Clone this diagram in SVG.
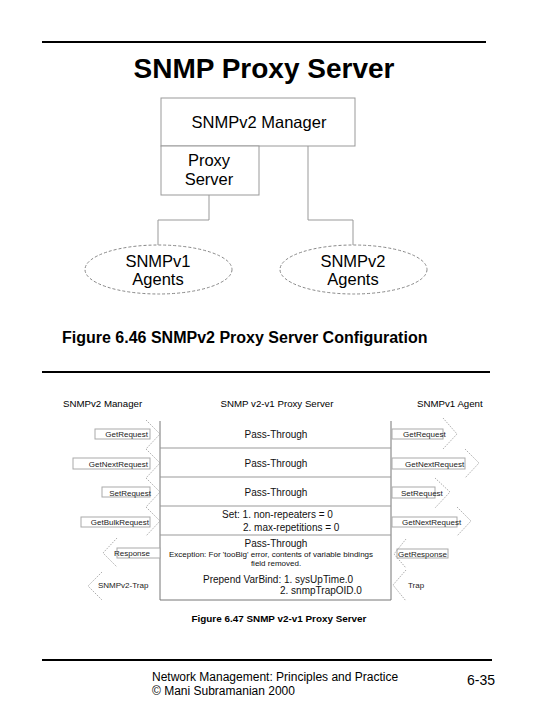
<svg xmlns="http://www.w3.org/2000/svg" width="540" height="720" viewBox="0 0 540 720">
<style>
text{font-family:"Liberation Sans",Arial,sans-serif;fill:#000}
.title{font-size:28px;font-weight:bold}
.cap{font-size:16px;font-weight:bold}
.cap2{font-size:9.9px;font-weight:bold}
.n1{font-size:16.5px}
.hdr{font-size:9.7px;fill:#000}
.row{font-size:10px;fill:#111}
.small{font-size:8px;fill:#111}
.lbl{font-size:8px;fill:#222}
.foot{font-size:12px}
.rule{stroke:#000;stroke-width:2}
.box{fill:#fff;stroke:#999;stroke-width:1}
.conn{fill:none;stroke:#999;stroke-width:1}
.ell{fill:#fff;stroke:#888;stroke-width:1;stroke-dasharray:3 2}
.sep{stroke:#999;stroke-width:1}
.vline{stroke:#777;stroke-width:1}
.body{fill:#fff;stroke:#aaa;stroke-width:1}
.head{fill:none;stroke:#999;stroke-width:0.8;stroke-dasharray:1.5 1.2}
</style>

<line class="rule" x1="42" y1="42" x2="486" y2="42"/>
<text class="title" x="264" y="78" text-anchor="middle">SNMP Proxy Server</text>

<g id="connectors">
  <polyline class="conn" points="209,195 209,220 158,220 158,245"/>
  <polyline class="conn" points="308,146 308,220 353,220 353,245"/>
</g>

<g id="manager">
  <rect class="box" x="161" y="98" width="194" height="48"/>
  <text class="n1" x="259" y="128" text-anchor="middle">SNMPv2 Manager</text>
</g>
<g id="proxy">
  <rect class="box" x="161" y="146" width="98" height="49"/>
  <text class="n1" x="209" y="166" text-anchor="middle">Proxy</text>
  <text class="n1" x="209" y="185" text-anchor="middle">Server</text>
</g>
<g id="v1agents">
  <ellipse class="ell" cx="158.5" cy="269.5" rx="73.5" ry="24.5"/>
  <text class="n1" x="158" y="267" text-anchor="middle">SNMPv1</text>
  <text class="n1" x="158" y="285" text-anchor="middle">Agents</text>
</g>
<g id="v2agents">
  <ellipse class="ell" cx="353.5" cy="269.5" rx="73.5" ry="24.5"/>
  <text class="n1" x="353" y="267" text-anchor="middle">SNMPv2</text>
  <text class="n1" x="353" y="285" text-anchor="middle">Agents</text>
</g>

<text class="cap" x="62" y="343">Figure 6.46 SNMPv2 Proxy Server Configuration</text>
<line class="rule" x1="42" y1="372" x2="490" y2="372"/>

<g id="headers">
  <text class="hdr" x="63" y="407">SNMPv2 Manager</text>
  <text class="hdr" x="277" y="407" text-anchor="middle">SNMP v2-v1 Proxy Server</text>
  <text class="hdr" x="417" y="407">SNMPv1 Agent</text>
</g>

<g id="proxytable">
  <line class="vline" x1="160" y1="421" x2="160" y2="600"/>
  <line class="vline" x1="391" y1="421" x2="391" y2="600"/>
  <line class="sep" x1="160" y1="448" x2="391" y2="448"/>
  <line class="sep" x1="160" y1="477" x2="391" y2="477"/>
  <line class="sep" x1="160" y1="506" x2="391" y2="506"/>
  <line class="sep" x1="160" y1="535" x2="391" y2="535"/>
  <line class="vline" x1="160" y1="600" x2="391" y2="600"/>
  <text class="row" x="276" y="438" text-anchor="middle">Pass-Through</text>
  <text class="row" x="276" y="467" text-anchor="middle">Pass-Through</text>
  <text class="row" x="276" y="496" text-anchor="middle">Pass-Through</text>
  <text class="row" x="222" y="518">Set: 1. non-repeaters = 0</text>
  <text class="row" x="243" y="531">2. max-repetitions = 0</text>
  <text class="row" x="276" y="547" text-anchor="middle">Pass-Through</text>
  <text class="small" x="271" y="557" text-anchor="middle">Exception: For 'tooBig' error, contents of variable bindings</text>
  <text class="small" x="276" y="566" text-anchor="middle">field removed.</text>
  <text class="row" x="203" y="583">Prepend VarBind: 1. sysUpTime.0</text>
  <text class="row" x="280" y="594">2. snmpTrapOID.0</text>
</g>

<g id="managerarrows">
  <rect class="body" x="95" y="429" width="55" height="10"/>
  <polyline class="head" points="146,420 160,434 146,449"/>
  <text class="lbl" x="148" y="437" text-anchor="end">GetRequest</text>

  <rect class="body" x="73" y="458" width="77" height="11"/>
  <polyline class="head" points="146,449 160,463 146,478"/>
  <text class="lbl" x="148" y="467" text-anchor="end">GetNextRequest</text>

  <rect class="body" x="102" y="487" width="48" height="10"/>
  <polyline class="head" points="146,478 160,492 146,507"/>
  <text class="lbl" x="151" y="496" text-anchor="end">SetRequest</text>

  <rect class="body" x="81" y="517" width="69" height="10"/>
  <polyline class="head" points="146,507 160,521 146,536"/>
  <text class="lbl" x="149" y="525" text-anchor="end">GetBulkRequest</text>

  <rect class="body" x="117" y="548" width="43" height="10"/>
  <polyline class="head" points="117,538 103,553 117,567"/>
  <text class="lbl" x="150" y="556" text-anchor="end">Response</text>

  <polyline class="head" points="102,572 88,586 102,600"/>
  <text class="lbl" x="98" y="588">SNMPv2-Trap</text>
</g>

<g id="agentarrows">
  <rect class="body" x="392" y="429" width="51" height="10"/>
  <polyline class="head" points="443,418 457,434 443,449"/>
  <text class="lbl" x="403" y="437">GetRequest</text>

  <rect class="body" x="392" y="458" width="73" height="11"/>
  <polyline class="head" points="465,449 479,463 465,478"/>
  <text class="lbl" x="405" y="467">GetNextRequest</text>

  <rect class="body" x="392" y="487" width="43" height="11"/>
  <polyline class="head" points="435,478 450,492 435,508"/>
  <text class="lbl" x="401" y="496">SetRequest</text>

  <rect class="body" x="392" y="517" width="65" height="10"/>
  <polyline class="head" points="457,507 471,521 457,536"/>
  <text class="lbl" x="402" y="525">GetNextRequest</text>

  <rect class="body" x="397" y="549" width="51" height="9"/>
  <polyline class="head" points="406,539 394,554 406,568"/>
  <text class="lbl" x="398" y="557">GetResponse</text>

  <polyline class="head" points="406,570 393,585 406,601"/>
  <text class="lbl" x="408" y="588">Trap</text>
</g>

<text class="cap2" x="279" y="622" text-anchor="middle">Figure 6.47 SNMP v2-v1 Proxy Server</text>

<line class="rule" x1="42" y1="660" x2="492" y2="660"/>
<text class="foot" x="152" y="681">Network Management: Principles and Practice</text>
<text class="foot" x="152" y="695">©  Mani Subramanian 2000</text>
<text class="foot" x="467" y="685" style="font-size:14px">6-35</text>
</svg>
